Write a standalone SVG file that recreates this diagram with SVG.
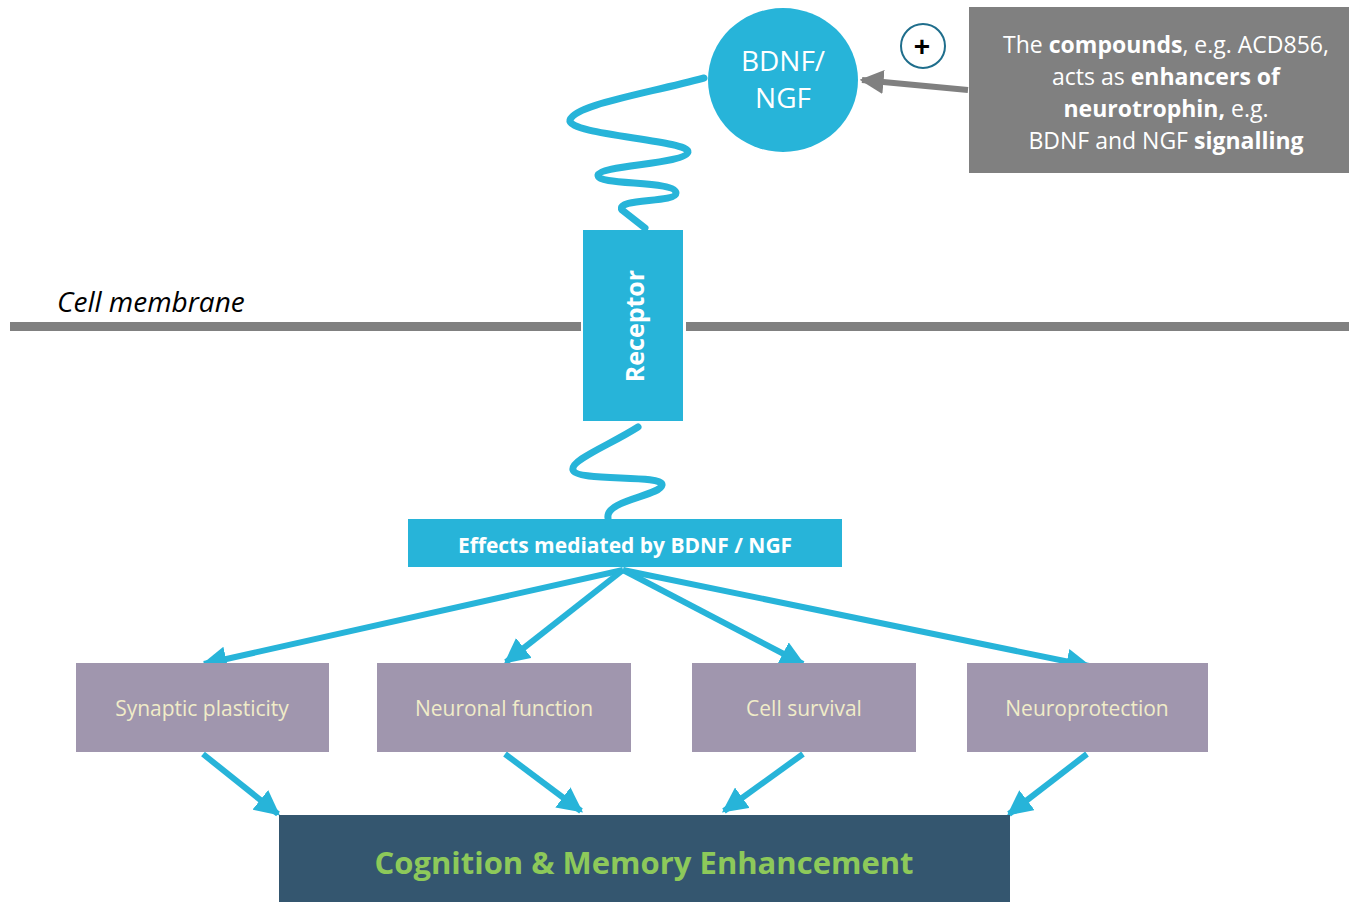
<svg xmlns="http://www.w3.org/2000/svg" width="1349" height="902" viewBox="0 0 1349 902">
<defs>
<style>
.blue{fill:#27b4d9}
.wave{fill:none;stroke:#27b4d9;stroke-width:7;stroke-linecap:round}
.conn{fill:none;stroke:#27b4d9;stroke-width:6}
.purple{fill:#a096ae}
.lbl{font-family:"Open Sans","Liberation Sans",sans-serif;font-size:21px;fill:#f0ecc8;text-anchor:middle}
.wt{font-family:"Open Sans","Liberation Sans",sans-serif;fill:#ffffff;text-anchor:middle}
</style>
<marker id="ah" viewBox="0 0 10 10" refX="9" refY="5" markerWidth="4.2" markerHeight="4.2" markerUnits="strokeWidth" orient="auto">
<path d="M0,0 L10,5 L0,10 Z" fill="#27b4d9"/>
</marker>
<marker id="ahg" viewBox="0 0 10 10" refX="9" refY="5" markerWidth="4" markerHeight="4" markerUnits="strokeWidth" orient="auto">
<path d="M0,0 L10,5 L0,10 Z" fill="#808080"/>
</marker>
</defs>
<rect width="1349" height="902" fill="#ffffff"/>

<g id="membrane">
<rect x="10" y="322" width="571" height="9" fill="#808080"/>
<rect x="686" y="322" width="663" height="9" fill="#808080"/>
<text x="57" y="312" font-family="Open Sans,Liberation Sans,sans-serif" font-style="italic" font-size="28" fill="#000">Cell membrane</text>
</g>

<g id="connectors">
<path class="wave" d="M704,78 C640,95 575,105 570,120 C566,135 690,140 688,152 C686,164 600,165 598,175 C596,186 676,180 676,193 C676,203 615,198 622,210 L645,228"/>
<path class="wave" d="M638,427 C610,445 570,460 573,470 C576,482 664,474 662,485 C660,496 605,500 608,518"/>
<line x1="968" y1="90" x2="862" y2="80" stroke="#808080" stroke-width="6" marker-end="url(#ahg)"/>
<line class="conn" x1="623" y1="570" x2="204" y2="664" marker-end="url(#ah)"/>
<line class="conn" x1="623" y1="570" x2="506" y2="662" marker-end="url(#ah)"/>
<line class="conn" x1="623" y1="570" x2="803" y2="664" marker-end="url(#ah)"/>
<line class="conn" x1="623" y1="570" x2="1089" y2="666" marker-end="url(#ah)"/>
<line class="conn" x1="203" y1="754" x2="278" y2="814" marker-end="url(#ah)"/>
<line class="conn" x1="505" y1="754" x2="581" y2="811" marker-end="url(#ah)"/>
<line class="conn" x1="803" y1="754" x2="724" y2="811" marker-end="url(#ah)"/>
<line class="conn" x1="1087" y1="754" x2="1009" y2="814" marker-end="url(#ah)"/>
</g>

<g id="bdnf">
<ellipse cx="783" cy="80" rx="75" ry="72" class="blue"/>
<text class="wt" font-size="28" x="783" y="71">BDNF/</text>
<text class="wt" font-size="28" x="783" y="108">NGF</text>
</g>

<g id="plus">
<circle cx="923" cy="46" r="22" fill="#ffffff" stroke="#1f6e8c" stroke-width="2"/>
<text x="922" y="56" font-family="Liberation Sans,sans-serif" font-weight="bold" font-size="28" text-anchor="middle" fill="#000">+</text>
</g>

<g id="compounds">
<rect x="969" y="7" width="380" height="166" fill="#808080"/>
<text class="wt" font-size="23" x="1166" y="53">The <tspan font-weight="bold">compounds</tspan>, e.g. ACD856,</text>
<text class="wt" font-size="23" x="1166" y="85">acts as <tspan font-weight="bold">enhancers of</tspan></text>
<text class="wt" font-size="23" x="1166" y="117"><tspan font-weight="bold">neurotrophin,</tspan> e.g.</text>
<text class="wt" font-size="23" x="1166" y="149">BDNF and NGF <tspan font-weight="bold">signalling</tspan></text>
</g>

<g id="receptor">
<rect x="583" y="230" width="100" height="191" class="blue"/>
<text class="wt" font-size="25" font-weight="bold" transform="translate(644,326) rotate(-90)">Receptor</text>
</g>

<g id="effects">
<rect x="408" y="519" width="434" height="48" class="blue"/>
<text class="wt" font-size="21" font-weight="bold" x="625" y="553">Effects mediated by BDNF / NGF</text>
</g>

<g id="synaptic">
<rect x="76" y="663" width="253" height="89" class="purple"/>
<text class="lbl" x="202" y="716">Synaptic plasticity</text>
</g>
<g id="neuronal">
<rect x="377" y="663" width="254" height="89" class="purple"/>
<text class="lbl" x="504" y="716">Neuronal function</text>
</g>
<g id="survival">
<rect x="692" y="663" width="224" height="89" class="purple"/>
<text class="lbl" x="804" y="716">Cell survival</text>
</g>
<g id="neuroprotection">
<rect x="967" y="663" width="241" height="89" class="purple"/>
<text class="lbl" x="1087" y="716">Neuroprotection</text>
</g>

<g id="cognition">
<rect x="279" y="815" width="731" height="87" fill="#34566f"/>
<text x="644" y="874" font-family="Open Sans,Liberation Sans,sans-serif" font-weight="bold" font-size="31" fill="#8dc95a" text-anchor="middle">Cognition &amp; Memory Enhancement</text>
</g>
</svg>
